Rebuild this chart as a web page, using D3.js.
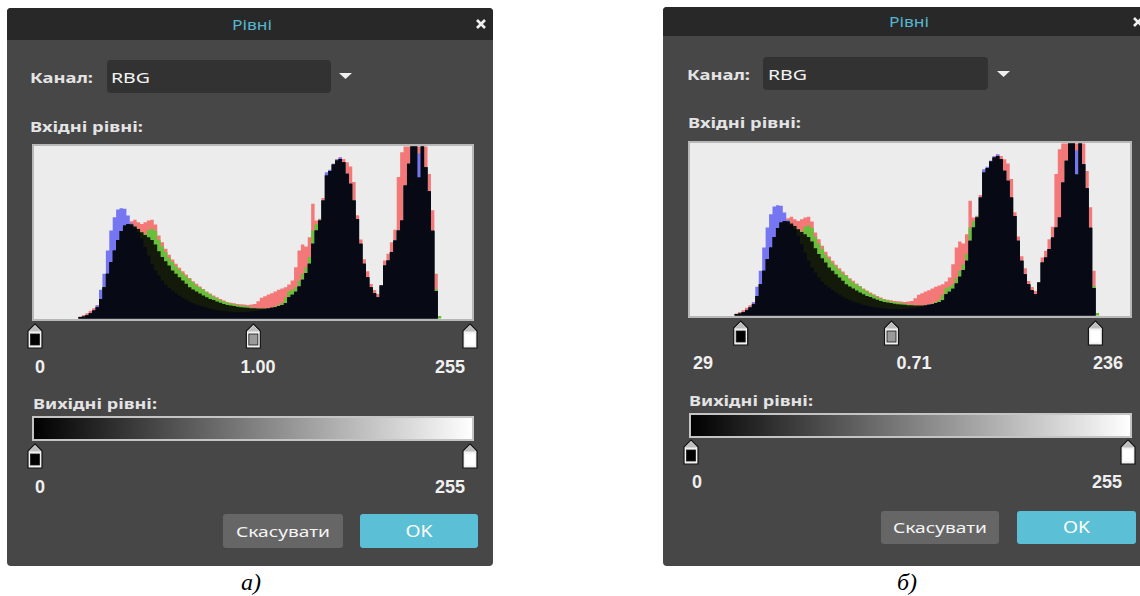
<!DOCTYPE html>
<html><head><meta charset="utf-8">
<script src="https://cdn.jsdelivr.net/npm/d3@7"></script>
<style>html,body{margin:0;padding:0;background:#fff}svg{display:block}</style>
</head><body>
<svg id="c" width="1140" height="596"></svg>
<script>
// ---- data: histogram bins (levels 26..236, step 2), values in % of plot height ----
const binStart = 26, binWidth = 2;
const redVals = [
1.2,2,3,4.5,6,7.8,11.4,18.2,26,32.8,
39.5,45.7,50.8,54.1,55,56.5,57.4,56,55,56,
57,57.4,54.7,48.3,44.4,40.5,37,34.3,31.8,29.5,
27.5,25.6,23.6,21.7,20.2,18.6,17.2,15.7,14.6,13.3,
12.4,11.3,10.5,9.6,9.1,8.9,8.5,8.3,8.1,7.9,
8.1,8.5,10.1,12,13,14,14.7,15.7,16.7,17.4,
18.2,19.8,22.1,29.8,39.5,43,41.9,47.3,66.7,57,
58,70,84.1,86,90,92.8,93.8,92.8,90.9,88.4,
79.3,60,46,34.5,27.5,20,16.5,14.3,19.5,33.7,
37.6,44.4,51.6,82.2,96.7,100,100,100,100,100,
100,100,84,63,26,0];
const greenVals = [
0.8,1.2,1.9,3.1,4.7,6.6,11.4,18.2,26,32.8,
39.5,45.7,50.8,54.1,55,54.7,53.5,52.1,50.2,49,
51.6,52.3,50.8,45.7,41.9,38.6,35.3,32.8,30.4,28.3,
26.4,24.4,23.1,21.1,19.2,18,16.9,15.3,14.1,12.8,
11.8,10.8,10,9.3,8.7,8.3,7.9,7.6,7.2,7,
6.6,6.2,5.8,5.8,5.8,6,6.4,7,7.8,9,
12,15.9,16.7,18.2,22,26,29.8,35.7,51.2,55,
57.5,68.6,83.1,85.7,89.5,91.9,92.8,90.9,84.1,78.3,
68.6,57.9,43.4,31.8,24,18.2,14.7,12.4,19.2,30.8,
33.7,38.6,45.3,51.2,57,77.3,89.9,100,100,82,
100,88,74,51,17,1.5];
const blueVals = [
0.8,1.2,1.9,3.3,5,7.6,16.7,26,39.5,51.2,
58.9,63.4,64.1,63.8,59.9,55.4,52.7,50.2,46.3,41.5,
36.6,31.8,27.9,25,22.1,19.8,17.8,16.3,14.7,13.4,
12,10.9,9.7,8.9,8.1,7.4,6.8,6.2,5.6,5.2,
4.8,4.5,4.3,4.1,3.9,3.7,3.7,3.7,3.7,3.9,
4.1,4.3,4.5,4.8,5.2,5.6,6.2,6.6,7.2,7.9,
8.9,12.4,13.8,15.5,18.6,22.5,26.4,31.8,43.4,51.2,
57,68.6,85.1,86.5,90,92.4,93.6,90.9,84.1,78.3,
68.6,57.9,43.4,31.8,24,18.2,14.7,12.4,19.2,30.8,
33.7,38.6,45.3,51.2,57,77.3,89.9,100,100,96,
100,88,74,51,16,0];
const oliveVals = [
0.8,1.2,1.9,3.1,4.7,6.6,11.4,18.2,26,32.8,
39.5,45.7,50.8,54.1,55,54.7,53.5,52.1,50.2,48.6,
47.3,45.7,43,39.1,35.7,33.3,30.8,27.9,26,24,
22.1,20.2,18.2,16.9,15.7,14.5,13.4,12.4,11.4,10.7,
9.9,9.1,8.5,7.9,7.6,7.2,6.8,6.6,6.4,6.2,
6,6,5.8,5.8,5.8,6,6.2,6.6,7.2,7.9,
8.9,12.4,13.8,15.5,18.6,22.5,26.4,31.8,43.4,51.2,
57,68.6,83.1,85.7,89.5,91.9,92.8,90.9,84.1,78.3,
68.6,57.9,43.4,31.8,24,18.2,14.7,12.4,19.2,30.8,
33.7,38.6,45.3,51.2,57,77.3,89.9,100,100,82,
100,88,74,51,16,0];
const blackVals = [
0.8,1.2,1.9,3.1,4.7,6.6,11.4,18.2,26,32.8,
39.5,45.7,50.8,54.1,55,54.7,52.7,50.2,46.3,41.5,
36.6,31.8,27.9,25,22.1,19.8,17.8,16.3,14.7,13.4,
12,10.9,9.7,8.9,8.1,7.4,6.8,6.2,5.6,5.2,
4.8,4.5,4.3,4.1,3.9,3.7,3.7,3.7,3.7,3.9,
4.1,4.3,4.5,4.8,5.2,5.6,6.2,6.6,7.2,7.9,
8.9,12.4,13.8,15.5,18.6,22.5,26.4,31.8,43.4,51.2,
57,68.6,83.1,85.7,89.5,91.9,92.8,90.9,84.1,78.3,
68.6,57.9,43.4,31.8,24,18.2,14.7,12.4,19.2,30.8,
33.7,38.6,45.3,51.2,57,77.3,89.9,100,100,82,
100,88,74,51,16,0];

// slider values and labels for the two dialogs
const inputSliderValues = [[0, 128, 255], [29, 117, 236]];
const inputLabels = [["0", "1.00", "255"], ["29", "0.71", "236"]];
const outputSliderValues = [[0, 255], [0, 255]];
const outputLabels = [["0", "255"], ["0", "255"]];
const captions = ["а)", "б)"];
const titleText = "Рівні";
const channelLabel = "Канал:";
const channelValue = "RBG";
const inputTitle = "Вхідні рівні:";
const outputTitle = "Вихідні рівні:";
const cancelText = "Скасувати";
const okText = "OK";

// ---- layout ----
const layouts = [
 { x0:7, y0:8, x1:493, y1:566, tb:40,
   title:{x:252,y:30}, close:{x:481,y:24},
   kanal:{x:30,y:83}, dd:{x:107,y:60,w:224,h:33}, rbg:{x:111,y:83}, tri:{x:345.5,y:73},
   inLbl:{x:30,y:132}, hist:{x:33,y:145,w:440,h:175},
   sl:{x0:35,x1:470,y:324}, inText:{y:373,lx:35,mx:258,rx:465},
   outLbl:{x:33,y:409}, grad:{x:33,y:417,w:440,h:23},
   osl:{y:444}, outText:{y:493,lx:35,rx:465},
   cancel:{x:223,y:514,w:120,h:34}, ok:{x:360,y:514,w:118,h:34},
   caption:{x:251,y:590} },
 { x0:663, y0:7, x1:1160, y1:566, tb:36,
   title:{x:909,y:27}, close:{x:1138,y:22},
   kanal:{x:687,y:80}, dd:{x:763,y:57,w:225,h:33}, rbg:{x:768,y:80}, tri:{x:1003.5,y:71},
   inLbl:{x:688,y:128}, hist:{x:689,y:142,w:442,h:175},
   sl:{x0:691,x1:1128,y:321}, inText:{y:369,lx:693,mx:914,rx:1123},
   outLbl:{x:689,y:406}, grad:{x:690,y:414,w:441,h:23},
   osl:{y:440}, outText:{y:488,lx:692,rx:1122},
   cancel:{x:881,y:511,w:118,h:33}, ok:{x:1017,y:511,w:119,h:33},
   caption:{x:907,y:590} }
];

const series = [
 {vals: redVals,   color: "#f47878"},
 {vals: greenVals, color: "#6abf3a"},
 {vals: blueVals,  color: "#7676f2"},
 {vals: oliveVals, color: "#131a09"},
 {vals: blackVals, color: "#070a15"}
];

const svg = d3.select("#c");
const defs = svg.append("defs");
const lg = defs.append("linearGradient").attr("id","gbw");
lg.append("stop").attr("offset","0%").attr("stop-color","#000");
lg.append("stop").attr("offset","100%").attr("stop-color","#fff");

const UI = "'Noto Sans', 'DejaVu Sans', sans-serif";
const NUM = "'Liberation Sans', Arial, sans-serif";

function text(g, s, x, y, o) {
  const t = g.append("text").attr("x", x).attr("y", y).text(s)
    .attr("font-family", o.family || UI).attr("font-size", o.size || 15)
    .attr("font-weight", o.weight || "normal").attr("fill", o.fill || "#e4e4e4")
    .attr("text-anchor", o.anchor || "start");
  if (o.len) t.attr("textLength", o.len).attr("lengthAdjust", "spacingAndGlyphs");
  if (o.style) t.attr("font-style", o.style);
  return t;
}

function slider(g, cx, ty, inner) {
  const w = 7;
  g.append("path")
    .attr("d", `M${cx},${ty} L${cx+w},${ty+7} L${cx+w},${ty+24} L${cx-w},${ty+24} L${cx-w},${ty+7} Z`)
    .attr("fill", "#f2f2f2").attr("stroke", "#141414").attr("stroke-width", 1.2);
  g.append("path")
    .attr("d", `M${cx},${ty+1.5} L${cx+w-1},${ty+7.5} L${cx-w+1},${ty+7.5} Z`)
    .attr("fill", "#bdbdbd");
  g.append("rect").attr("x", cx-4.5).attr("y", ty+10).attr("width", 9).attr("height", 11)
    .attr("fill", inner).attr("stroke", inner === "#ffffff" ? "#ffffff" : "#1a1a1a").attr("stroke-width", 0.8);
}

layouts.forEach((c, k) => {
  const g = svg.append("g");
  // body + title bar
  g.append("rect").attr("x", c.x0).attr("y", c.y0).attr("width", c.x1-c.x0).attr("height", c.y1-c.y0)
    .attr("rx", 4).attr("fill", "#474747");
  g.append("path")
    .attr("d", `M${c.x0},${c.tb} V${c.y0+4} Q${c.x0},${c.y0} ${c.x0+4},${c.y0} H${c.x1-4} Q${c.x1},${c.y0} ${c.x1},${c.y0+4} V${c.tb} Z`)
    .attr("fill", "#282828");
  text(g, titleText, c.title.x, c.title.y, {size:14, fill:"#55b6cf", anchor:"middle", len:40});
  // close x
  const cx = c.close.x, cy = c.close.y;
  g.append("path").attr("d", `M${cx-4},${cy-4} L${cx+4},${cy+4} M${cx+4},${cy-4} L${cx-4},${cy+4}`)
    .attr("stroke", "#f0f0f0").attr("stroke-width", 2.6);

  // channel row
  text(g, channelLabel, c.kanal.x, c.kanal.y, {size:15, weight:"bold", len:63});
  g.append("rect").attr("x", c.dd.x).attr("y", c.dd.y).attr("width", c.dd.w).attr("height", c.dd.h)
    .attr("rx", 4).attr("fill", "#323232");
  text(g, channelValue, c.rbg.x, c.rbg.y, {size:15, fill:"#f2f2f2", len:39});
  g.append("path").attr("d", `M${c.tri.x-6.5},${c.tri.y} L${c.tri.x+6.5},${c.tri.y} L${c.tri.x},${c.tri.y+6} Z`)
    .attr("fill", "#efefef");

  // input levels title
  text(g, inputTitle, c.inLbl.x, c.inLbl.y, {size:15, weight:"bold", len:113});

  // histogram
  const h = c.hist;
  g.append("rect").attr("x", h.x).attr("y", h.y).attr("width", h.w).attr("height", h.h).attr("fill", "#ececec");
  const x = d3.scaleLinear().domain([0, 256]).range([h.x+1, h.x+h.w-1]);
  const y = d3.scaleLinear().domain([0, 100]).range([h.y+h.h-1.5, h.y+1.5]);
  const area = d3.area().x(d => x(d.l)).y0(y(0)).y1(d => y(d.v)).curve(d3.curveStepAfter);
  series.forEach(s => {
    const pts = s.vals.map((v, i) => ({l: binStart + i*binWidth, v}));
    pts.push({l: binStart + s.vals.length*binWidth, v: s.vals[s.vals.length-1]});
    g.append("path").attr("d", area(pts)).attr("fill", s.color);
  });
  g.append("rect").attr("x", h.x).attr("y", h.y).attr("width", h.w).attr("height", h.h)
    .attr("fill", "none").attr("stroke", "#b8b8b8").attr("stroke-width", 2);

  // input sliders
  const sx = d3.scaleLinear().domain([0, 255]).range([c.sl.x0, c.sl.x1]);
  const inners = ["#000000", "#9a9a9a", "#ffffff"];
  inputSliderValues[k].forEach((v, i) => slider(g, sx(v), c.sl.y, inners[i]));
  const il = inputLabels[k];
  text(g, il[0], c.inText.lx, c.inText.y, {family:NUM, size:18, weight:"bold", fill:"#f0f0f0"});
  text(g, il[1], c.inText.mx, c.inText.y, {family:NUM, size:18, weight:"bold", fill:"#f0f0f0", anchor:"middle"});
  text(g, il[2], c.inText.rx, c.inText.y, {family:NUM, size:18, weight:"bold", fill:"#f0f0f0", anchor:"end"});

  // output levels
  text(g, outputTitle, c.outLbl.x, c.outLbl.y, {size:15, weight:"bold", len:124});
  const gr = c.grad;
  g.append("rect").attr("x", gr.x).attr("y", gr.y).attr("width", gr.w).attr("height", gr.h)
    .attr("fill", "url(#gbw)").attr("stroke", "#c4c4c4").attr("stroke-width", 2);
  outputSliderValues[k].forEach((v, i) => slider(g, sx(v), c.osl.y, i === 0 ? "#000000" : "#ffffff"));
  const ol = outputLabels[k];
  text(g, ol[0], c.outText.lx, c.outText.y, {family:NUM, size:18, weight:"bold", fill:"#f0f0f0"});
  text(g, ol[1], c.outText.rx, c.outText.y, {family:NUM, size:18, weight:"bold", fill:"#f0f0f0", anchor:"end"});

  // buttons
  const b1 = c.cancel, b2 = c.ok;
  g.append("rect").attr("x", b1.x).attr("y", b1.y).attr("width", b1.w).attr("height", b1.h).attr("rx", 3).attr("fill", "#666666");
  text(g, cancelText, b1.x + b1.w/2, b1.y + b1.h/2 + 5.5, {size:15, fill:"#f4f4f4", anchor:"middle", len:94});
  g.append("rect").attr("x", b2.x).attr("y", b2.y).attr("width", b2.w).attr("height", b2.h).attr("rx", 3).attr("fill", "#5bbfd5");
  text(g, okText, b2.x + b2.w/2, b2.y + b2.h/2 + 5.5, {size:16, fill:"#ffffff", anchor:"middle", len:27});

  // caption
  text(g, captions[k], c.caption.x, c.caption.y, {family:"'Liberation Serif', 'Times New Roman', serif", size:24, style:"italic", fill:"#000", anchor:"middle"});
});
</script>
</body></html>
